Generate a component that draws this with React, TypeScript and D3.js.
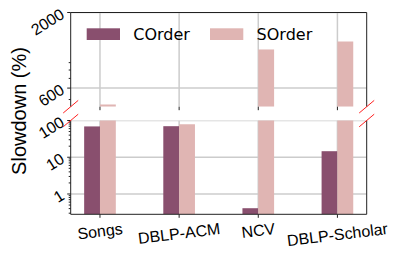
import React, { useEffect, useRef } from "react";
import * as d3 from "d3";

const categories = ["Songs", "DBLP-ACM", "NCV", "DBLP-Scholar"];
const corderValues = [69, 70, 0.41, 14.6];
const sorderValues = [462, 79, 1110, 1260];
const seriesNames = ["COrder", "SOrder"];
const colors = ["#894f6e", "#e0b5b3"];

const topTicks = [600, 2000];
const topMinor = [500, 700, 800, 900];
const bottomTicks = [1, 10, 100];

const width = 399;
const height = 253;

const App: React.FC = () => {
  const ref = useRef<SVGSVGElement | null>(null);

  useEffect(() => {
    if (!ref.current) return;
    const svg = d3.select(ref.current);
    svg.selectAll("*").remove();

    const left = 70.7;
    const right = 366.7;
    const top = { y0: 12.5, y1: 106.7 };
    const bot = { y0: 120.5, y1: 214.3 };
    const axisColor = "#222";
    const gridColor = "#cccccc";
    const font = "'Liberation Sans', Arial, sans-serif";

    const x = d3.scaleLinear().domain([-0.37, 3.37]).range([left, right]);
    const yTop = d3.scaleLog().domain([446, 2000]).range([top.y1, top.y0]);
    const yBot = d3.scaleLog().domain([0.28, 100]).range([bot.y1, bot.y0]);
    const barW = x(0.2) - x(0);

    // clip paths for the two panels
    const defs = svg.append("defs");
    defs.append("clipPath").attr("id", "clipTop")
      .append("rect").attr("x", left).attr("y", top.y0).attr("width", right - left).attr("height", top.y1 - top.y0);
    defs.append("clipPath").attr("id", "clipBot")
      .append("rect").attr("x", left).attr("y", bot.y0).attr("width", right - left).attr("height", bot.y1 - bot.y0);

    const panels = [
      { y: yTop, r: top, clip: "clipTop", ticks: topTicks, minor: topMinor },
      {
        y: yBot, r: bot, clip: "clipBot", ticks: bottomTicks,
        minor: [0.3, 0.4, 0.5, 0.6, 0.7, 0.8, 0.9, 2, 3, 4, 5, 6, 7, 8, 9, 20, 30, 40, 50, 60, 70, 80, 90],
      },
    ];

    panels.forEach((p) => {
      const g = svg.append("g");
      const inner = g.append("g").attr("clip-path", `url(#${p.clip})`);

      // grid
      inner.selectAll(".hgrid").data(p.ticks).join("line")
        .attr("x1", left).attr("x2", right)
        .attr("y1", (d) => p.y(d)).attr("y2", (d) => p.y(d))
        .attr("stroke", gridColor).attr("stroke-width", 1.5);
      inner.selectAll(".vgrid").data(categories).join("line")
        .attr("x1", (_, i) => x(i)).attr("x2", (_, i) => x(i))
        .attr("y1", p.r.y0).attr("y2", p.r.y1)
        .attr("stroke", gridColor).attr("stroke-width", 1.5);

      // bars
      [corderValues, sorderValues].forEach((vals, s) => {
        inner.selectAll(`.bar-${s}`).data(vals).join("rect")
          .attr("x", (_, i) => x(i + (s === 0 ? -0.2 : 0)))
          .attr("width", barW)
          .attr("y", (d) => Math.max(p.y(d), p.r.y0 - 2))
          .attr("height", (d) => Math.max(0, p.r.y1 - Math.max(p.y(d), p.r.y0 - 2)))
          .attr("fill", colors[s]);
      });

      // spines
      g.append("line").attr("x1", left).attr("x2", left).attr("y1", p.r.y0).attr("y2", p.r.y1)
        .attr("stroke", axisColor).attr("stroke-width", 1);
      g.append("line").attr("x1", right).attr("x2", right).attr("y1", p.r.y0).attr("y2", p.r.y1)
        .attr("stroke", axisColor).attr("stroke-width", 1);

      // y ticks
      g.selectAll(".ymaj").data(p.ticks).join("line")
        .attr("x1", left - 3.5).attr("x2", left)
        .attr("y1", (d) => p.y(d)).attr("y2", (d) => p.y(d))
        .attr("stroke", axisColor);
      g.selectAll(".ymin").data(p.minor).join("line")
        .attr("x1", left - 2).attr("x2", left)
        .attr("y1", (d) => p.y(d)).attr("y2", (d) => p.y(d))
        .attr("stroke", axisColor);
      g.selectAll(".ylab").data(p.ticks).join("text")
        .attr("transform", (d) => `translate(${left - 8},${p.y(d)}) rotate(-32)`)
        .attr("text-anchor", "end")
        .attr("dominant-baseline", "central")
        .attr("font-family", font)
        .attr("font-size", 16)
        .attr("fill", "#000")
        .text((d) => String(d));

      // x ticks
      g.selectAll(".xt").data(categories).join("line")
        .attr("x1", (_, i) => x(i)).attr("x2", (_, i) => x(i))
        .attr("y1", p.r.y1).attr("y2", p.r.y1 + 3.5)
        .attr("stroke", axisColor);
    });

    // top spine of top panel, bottom spine of bottom panel
    svg.append("line").attr("x1", left).attr("x2", right).attr("y1", top.y0).attr("y2", top.y0)
      .attr("stroke", axisColor);
    svg.append("line").attr("x1", left).attr("x2", right).attr("y1", bot.y1).attr("y2", bot.y1)
      .attr("stroke", axisColor);

    // break marks
    [left, right].forEach((sx) => {
      [top.y1, bot.y0].forEach((sy) => {
        svg.append("line")
          .attr("x1", sx - 7.5).attr("y1", sy + 6.3)
          .attr("x2", sx + 7.5).attr("y2", sy - 6.3)
          .attr("stroke", "#ff2020").attr("stroke-width", 1);
      });
    });

    // x labels, rotated, top of rotated box at fixed y
    const ang = 7;
    const rad = (ang * Math.PI) / 180;
    categories.forEach((c, i) => {
      const t = svg.append("text")
        .attr("text-anchor", "middle")
        .attr("dominant-baseline", "central")
        .attr("font-family", font)
        .attr("font-size", 16)
        .attr("fill", "#000")
        .text(c);
      const w = (t.node() as SVGTextElement).getComputedTextLength();
      const h = 15;
      const rotH = w * Math.sin(rad) + h * Math.cos(rad);
      t.attr("transform", `translate(${x(i)},${221 + rotH / 2}) rotate(-${ang})`);
    });

    // y label
    svg.append("text")
      .attr("transform", `translate(19,111) rotate(-90)`)
      .attr("text-anchor", "middle")
      .attr("dominant-baseline", "central")
      .attr("font-family", font)
      .attr("font-size", 20)
      .attr("fill", "#000")
      .text("Slowdown (%)");

    // legend
    const legendX = [86.7, 210];
    seriesNames.forEach((n, s) => {
      svg.append("rect")
        .attr("x", legendX[s]).attr("y", 28.3)
        .attr("width", 33.3).attr("height", 11.7)
        .attr("fill", colors[s]);
      svg.append("text")
        .attr("x", legendX[s] + 46.6).attr("y", 40)
        .attr("font-family", "'DejaVu Sans', sans-serif")
        .attr("font-size", 16)
        .attr("fill", "#000")
        .text(n);
    });
  }, []);

  return (
    <svg
      ref={ref}
      width={width}
      height={height}
      style={{ position: "absolute", left: 0, top: 0, background: "#fff" }}
    ></svg>
  );
};

export default App;
